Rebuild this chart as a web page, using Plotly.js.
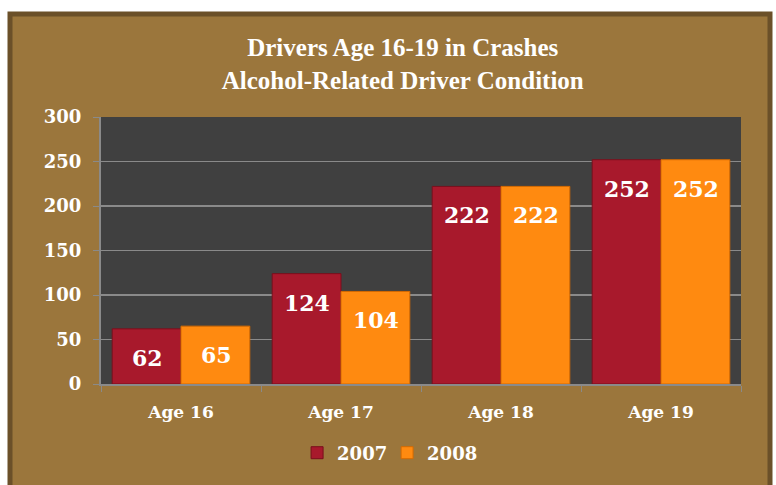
<!DOCTYPE html>
<html><head><meta charset="utf-8">
<script src="https://cdn.plot.ly/plotly-3.0.1.min.js"></script>
<style>html,body{margin:0;padding:0;background:#fff}#chart{width:776px;height:485px}</style>
</head><body><div id="chart"></div>
<script>
const categories = ["Age 16", "Age 17", "Age 18", "Age 19"];
const series2007 = [62, 124, 222, 252];
const series2008 = [65, 104, 222, 252];
const seriesNames = ["2007", "2008"];
const yTicks = [0, 50, 100, 150, 200, 250, 300];

const F = "DejaVu Serif";
const red = "#a8192c", orange = "#ff8a10";

const traces = [
  {type:"bar", name:seriesNames[0], x:categories, y:series2007,
   marker:{color:red, line:{color:"#7a0f1c", width:1}}, hoverinfo:"none"},
  {type:"bar", name:seriesNames[1], x:categories, y:series2008,
   marker:{color:orange, line:{color:"#d56a00", width:1}}, hoverinfo:"none"}
];

const annotations = [];
[series2007, series2008].forEach((vals, si) => {
  vals.forEach((v, i) => {
    annotations.push({x:categories[i], y:v, xref:"x", yref:"y", text:String(v),
      showarrow:false, xshift: si===0 ? -34 : 35, yshift:-29, yanchor:"middle",
      font:{family:F, size:22, color:"#ffffff", weight:"bold"}});
  });
});

const pxX = p => (p - 101) / 640;
const pxY = p => (384 - p) / 267;

const layout = {
  width:776, height:485,
  paper_bgcolor:"#ffffff", plot_bgcolor:"#404040",
  margin:{l:101, r:35, t:117, b:101},
  title:{text:"Drivers Age 16-19 in Crashes<br>Alcohol-Related Driver Condition",
    x:0.519, xanchor:"center", y:1-56/485, yanchor:"middle",
    font:{family:"Liberation Serif", size:25, color:"#ffffff", weight:"bold"}},
  barmode:"group", bargap:0.14, bargroupgap:0,
  xaxis:{type:"category", tickson:"boundaries", ticks:"outside", ticklen:6, tickcolor:"#8a8a8a",
    showline:true, linecolor:"#8a8a8a", linewidth:2, showgrid:false, ticklabelstandoff:12,
    tickfont:{family:F, size:17, color:"#ffffff", weight:"bold"}},
  yaxis:{range:[0,300], tickvals:yTicks, ticks:"outside", ticklen:6, tickcolor:"#8a8a8a",
    showline:true, linecolor:"#8a8a8a", linewidth:2, gridcolor:"#8a8a8a", gridwidth:1.5,
    zeroline:false, ticklabelstandoff:8,
    tickfont:{family:F, size:18, color:"#ffffff", weight:"bold"}},
  showlegend:true,
  legend:{orientation:"h", x:0.447, xanchor:"center", y:pxY(453), yanchor:"middle",
    font:{family:F, size:18, color:"#ffffff", weight:"bold"}, bgcolor:"rgba(0,0,0,0)",
    itemwidth:30, entrywidth:45},
  shapes:[
    {type:"rect", xref:"paper", yref:"paper", layer:"below",
     x0:pxX(10), x1:pxX(770), y0:pxY(500), y1:pxY(14),
     fillcolor:"#9b763c", line:{color:"#6b5029", width:5}},
    {type:"rect", xref:"paper", yref:"paper", layer:"below",
     x0:0, x1:1, y0:0, y1:1, fillcolor:"#404040", line:{width:0}}
  ],
  annotations:annotations
};

Plotly.newPlot("chart", traces, layout, {displayModeBar:false, staticPlot:true});
</script></body></html>
